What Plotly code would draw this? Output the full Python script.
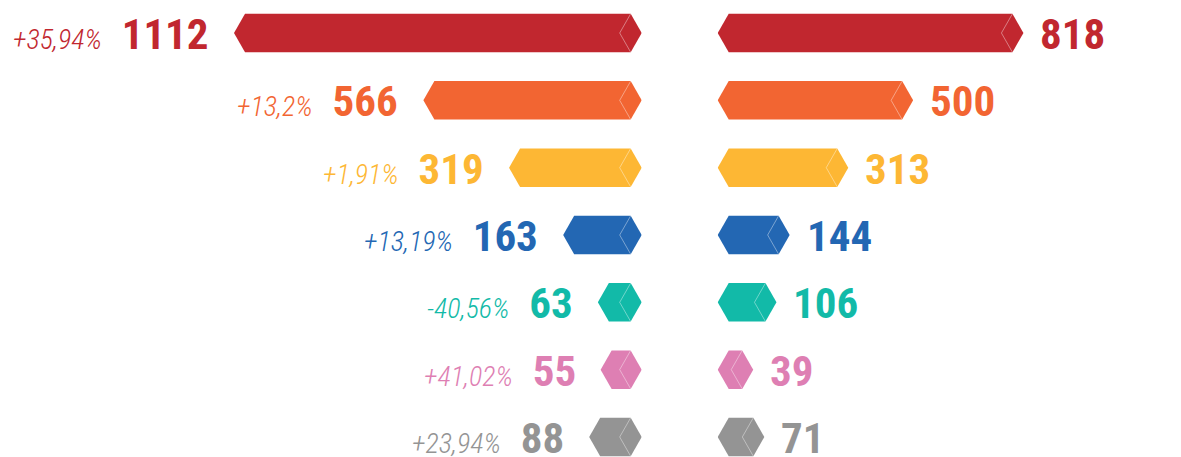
import plotly.graph_objects as go

# ---- data ----
left_values = [1112, 566, 319, 163, 63, 55, 88]
right_values = [818, 500, 313, 144, 106, 39, 71]
changes = ["+35,94%", "+13,2%", "+1,91%", "+13,19%", "-40,56%", "+41,02%", "+23,94%"]
colors = ["#C1272F", "#F26532", "#FDB734", "#2367B3", "#12BAA8", "#DE7FB3", "#949494"]

# ---- layout constants (pixels) ----
W, H = 1181, 457
left_zero_px = 641.7      # where left bars start (inner tip)
right_zero_px = 717.7     # where right bars start (inner tip)
longest_px = 407.7        # pixel length of the longest bar (incl. tips)
tip_px = 11.0
row_top_px = 33.0
row_step_px = 67.33
bar_h_px = 38.5

vmax = max(max(left_values), max(right_values))
s = (longest_px - 2 * tip_px) / vmax        # px per value unit (shared scale)
t = tip_px / s                               # tip width in value units
hh = bar_h_px / 2 / row_step_px              # half bar height in row units

n = len(left_values)
y_top = -row_top_px / row_step_px
y_bot = (n - 1) + (H - row_top_px - (n - 1) * row_step_px) / row_step_px

FONT = "Roboto Condensed, Open Sans Condensed, DejaVu Sans Condensed, sans-serif"

fig = go.Figure()


def hexagon(v, y, side):
    # polygon in value units: inner tip at 0, outer tip at v + 2t
    xs = [0, t, t + v, 2 * t + v, t + v, t, 0]
    ys = [y, y - hh, y - hh, y, y + hh, y + hh, y]
    if side == "left":
        cx = [t, 2 * t, t]
    else:
        cx = [t + v, v, t + v]
    cy = [y - hh, y, y + hh]
    return xs, ys, cx, cy


for i in range(n):
    for side, vals, xa in (("left", left_values, "x"), ("right", right_values, "x2")):
        xs, ys, cx, cy = hexagon(vals[i], i, side)
        fig.add_trace(go.Scatter(x=xs, y=ys, xaxis=xa, yaxis="y", mode="lines",
                                 fill="toself", fillcolor=colors[i],
                                 line=dict(width=0, color=colors[i]),
                                 hoverinfo="skip", showlegend=False))
        fig.add_trace(go.Scatter(x=cx, y=cy, xaxis=xa, yaxis="y", mode="lines",
                                 line=dict(width=0.8, color="rgba(255,255,255,0.5)"),
                                 hoverinfo="skip", showlegend=False))

    pct = ("<span style='font-size:28px;font-weight:300;font-style:italic'>"
           + changes[i] + "</span>\u00a0\u00a0" + str(left_values[i]))
    fig.add_annotation(x=left_values[i] + 2 * t, y=i, xref="x", yref="y",
                       text=pct, showarrow=False, xanchor="right", yanchor="middle",
                       xshift=-23, yshift=-1,
                       font=dict(family=FONT, size=43, color=colors[i], weight="bold"))
    fig.add_annotation(x=right_values[i] + 2 * t, y=i, xref="x2", yref="y",
                       text=str(right_values[i]), showarrow=False, xanchor="left",
                       yanchor="middle", xshift=15, yshift=-1,
                       font=dict(family=FONT, size=43, color=colors[i], weight="bold"))

fig.update_layout(
    width=W, height=H,
    margin=dict(l=0, r=0, t=0, b=0),
    paper_bgcolor="white", plot_bgcolor="white",
    showlegend=False,
    xaxis=dict(domain=[0, left_zero_px / W], range=[left_zero_px / s, 0],
               visible=False, fixedrange=True),
    xaxis2=dict(domain=[right_zero_px / W, 1], range=[0, (W - right_zero_px) / s],
                visible=False, fixedrange=True, anchor="y"),
    yaxis=dict(domain=[0, 1], range=[y_bot, y_top], visible=False, fixedrange=True),
)

fig.write_html("out.html")
